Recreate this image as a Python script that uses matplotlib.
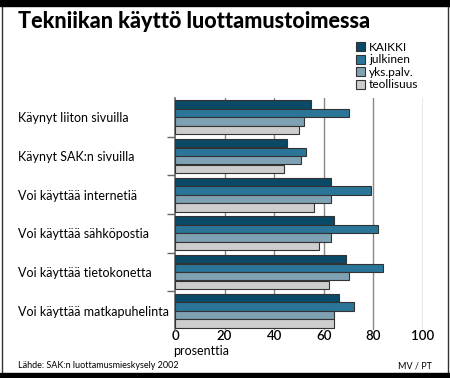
import matplotlib
matplotlib.use("Agg")
import matplotlib.pyplot as plt
import numpy as np
from matplotlib.patches import Rectangle

plt.rcParams['font.family'] = ['Lato', 'DejaVu Sans']

categories = ["Käynyt liiton sivuilla", "Käynyt SAK:n sivuilla", "Voi käyttää internetiä",
              "Voi käyttää sähköpostia", "Voi käyttää tietokonetta", "Voi käyttää matkapuhelinta"]
series = ["KAIKKI", "julkinen", "yks.palv.", "teollisuus"]
kaikki = [55, 45, 63, 64, 69, 66]
julkinen = [70, 53, 79, 82, 84, 72]
yks_palv = [52, 51, 63, 63, 70, 64]
teollisuus = [50, 44, 56, 58, 62, 64]
colors = ["#0b4a66", "#2b7598", "#7ea2b4", "#cdcdcd"]
xticks = [0, 20, 40, 60, 80, 100]

fig = plt.figure(figsize=(4.5, 3.78), dpi=100)
ax = fig.add_axes([175 / 450, 1 - 330 / 378, 248 / 450, 232 / 378])

values = [kaikki, julkinen, yks_palv, teollisuus]
y = np.arange(len(categories))
h = 0.215
for i, (name, vals, c) in enumerate(zip(series, values, colors)):
    ax.barh(y - 0.33 + i * 0.22, vals, height=h, color=c, edgecolor="#333333",
            linewidth=0.8, label=name, zorder=3)

ax.set_xlim(0, 100)
ax.set_ylim(len(categories) - 0.5, -0.5)
ax.set_xticks(xticks)
ax.set_xticklabels([str(t) for t in xticks], fontsize=9.5, fontweight="semibold")
ax.tick_params(axis="x", length=0, pad=0)
for t in xticks[1:]:
    ax.axvline(t, color="#888888", lw=1, zorder=1)
ax.set_yticks([])
ax.set_yticks(np.arange(0.5, len(categories) - 0.5), minor=True)
ax.tick_params(axis="y", which="minor", length=6, width=1, color="#666666", direction="out")
for k, cat in enumerate(categories):
    fig.text(18 / 450, 1 - (118 + k * 38.8) / 378, cat, fontsize=9, va="center", ha="left")
for s in ["top", "right", "bottom"]:
    ax.spines[s].set_visible(False)
ax.spines["left"].set_color("#666666")
ax.spines["left"].set_linewidth(1.2)

fig.text(173 / 450, 1 - 351 / 378, "prosenttia", fontsize=9, va="center", ha="left")
fig.text(18 / 450, 1 - 366 / 378, "Lähde: SAK:n luottamusmieskysely 2002", fontsize=6.5, va="center")
fig.text(432 / 450, 1 - 366 / 378, "MV / PT", fontsize=6.5, va="center", ha="right")
fig.text(18 / 450, 1 - 21 / 378, "Tekniikan käyttö luottamustoimessa", fontsize=15.5,
         fontweight="black", va="center", ha="left")

leg = fig.legend(loc="upper left", bbox_to_anchor=(356 / 450, 1 - 42 / 378), frameon=False,
                 fontsize=8.6, handlelength=0.75, handleheight=0.75, handletextpad=0.35,
                 labelspacing=0.12, borderpad=0, borderaxespad=0)

# frame around the graphic
fig.patches.append(Rectangle((0, 372 / 378), 1, 6 / 378, transform=fig.transFigure,
                             color="black", zorder=10))
fig.patches.append(Rectangle((0, 0), 1, 5 / 378, transform=fig.transFigure,
                             color="black", zorder=10))
fig.add_artist(plt.Line2D([1.5 / 450, 1.5 / 450], [0, 1], transform=fig.transFigure,
                          color="#333333", lw=1))
fig.add_artist(plt.Line2D([447.5 / 450, 447.5 / 450], [0, 1], transform=fig.transFigure,
                          color="#333333", lw=1))

fig.savefig("out.png", dpi=100)
